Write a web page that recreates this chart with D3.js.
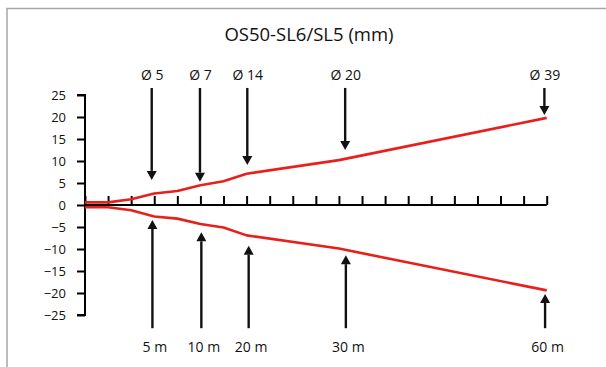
<!DOCTYPE html>
<html><head><meta charset="utf-8">
<script src="https://cdn.jsdelivr.net/npm/d3@7"></script>
<style>
html,body{margin:0;padding:0;background:#fff;}
svg{display:block;font-family:"Open Sans",sans-serif;}
</style></head>
<body><div id="chart"></div>
<script>
const title = "OS50-SL6/SL5 (mm)";
const pointX = [0, 1, 2, 3, 4, 5, 6, 7, 11, 20];
const upperValues = [0.6, 0.6, 1.3, 2.6, 3.2, 4.5, 5.4, 7.1, 10.2, 19.8];
const lowerValues = [-0.5, -0.5, -1.2, -2.6, -3.1, -4.3, -5.1, -6.9, -9.9, -19.4];
const yTicks = [25, 20, 15, 10, 5, 0, -5, -10, -15, -20, -25];
const xTicks = d3.range(0, 21);
const diamLabels = ["Ø 5", "Ø 7", "Ø 14", "Ø 20", "Ø 39"];
const diamX = [2.89, 4.98, 7.03, 11.27, 19.9];
const diamTip = [5.7, 5.3, 9.1, 12.5, 20.45];
const distLabels = ["5 m", "10 m", "20 m", "30 m", "60 m"];
const distX = [2.92, 5.04, 7.09, 11.3, 19.93];
const distTip = [-3.4, -6.2, -9.25, -11.4, -20.2];
const arrowTopValue = 26.6;
const arrowBottomValue = -28;

const W = 606, H = 367;
const svg = d3.select("#chart").append("svg").attr("width", W).attr("height", H);

// frame
svg.append("rect").attr("x", 7).attr("y", 8.5).attr("width", 700).attr("height", 400)
  .attr("fill", "none").attr("stroke", "#a6a6a6").attr("stroke-width", 1.5);

const x = d3.scaleLinear().domain([0, 20]).range([85, 546.7]);
const y = d3.scaleLinear().domain([-25, 25]).range([315, 95]);

svg.append("text").attr("x", 309).attr("y", 41).attr("text-anchor", "middle")
  .attr("font-size", 18.5).attr("fill", "#111").text(title);

// y axis
const yAxis = d3.axisLeft(y).tickValues(yTicks).tickSize(8).tickPadding(11).tickFormat(d3.format("d"));
const gy = svg.append("g").attr("transform", `translate(${x(0)},0)`).call(yAxis);
gy.select(".domain").attr("stroke", "#000").attr("stroke-width", 2).attr("d", `M-8,${y(25)}H0V${y(-25)}H-8`);
gy.selectAll(".tick line").attr("stroke", "#000").attr("stroke-width", 2);
gy.selectAll(".tick text").attr("font-size", 13).attr("font-family", "Open Sans").attr("fill", "#111");

// x axis (ticks pointing up, no labels)
const xAxis = d3.axisTop(x).tickValues(xTicks).tickSize(9).tickFormat("");
const gx = svg.append("g").attr("transform", `translate(0,${y(0)})`).call(xAxis);
gx.select(".domain").attr("stroke", "#000").attr("stroke-width", 2).attr("d", `M${x(0)},0H${x(20)}`);
gx.selectAll(".tick line").attr("stroke", "#000").attr("stroke-width", 2);

// red lines
const line = d3.line().x(d => x(d[0])).y(d => y(d[1]));
[upperValues, lowerValues].forEach(vals => {
  svg.append("path").datum(pointX.map((px, i) => [px, vals[i]]))
    .attr("d", line).attr("fill", "none").attr("stroke", "#e8201c")
    .attr("stroke-width", 2.6).attr("stroke-linejoin", "round");
});

// arrows
function arrow(xv, fromV, tipV) {
  const px = x(xv), y0 = y(fromV), y1 = y(tipV);
  const dir = y1 > y0 ? 1 : -1;
  const head = 9, hw = 5;
  svg.append("line").attr("x1", px).attr("x2", px).attr("y1", y0).attr("y2", y1 - dir * head)
    .attr("stroke", "#111").attr("stroke-width", 2.4);
  svg.append("path").attr("d", `M${px - hw},${y1 - dir * head}L${px + hw},${y1 - dir * head}L${px},${y1}Z`)
    .attr("fill", "#111");
}
diamX.forEach((xv, i) => {
  arrow(xv, arrowTopValue, diamTip[i]);
  svg.append("text").attr("x", x(xv) + 0.5).attr("y", 80).attr("text-anchor", "middle")
    .attr("font-size", 14).attr("fill", "#111").text(diamLabels[i]);
});
distX.forEach((xv, i) => {
  arrow(xv, arrowBottomValue, distTip[i]);
  svg.append("text").attr("x", x(xv) + 2.5).attr("y", 352).attr("text-anchor", "middle")
    .attr("font-size", 14).attr("fill", "#111").text(distLabels[i]);
});
</script></body></html>
